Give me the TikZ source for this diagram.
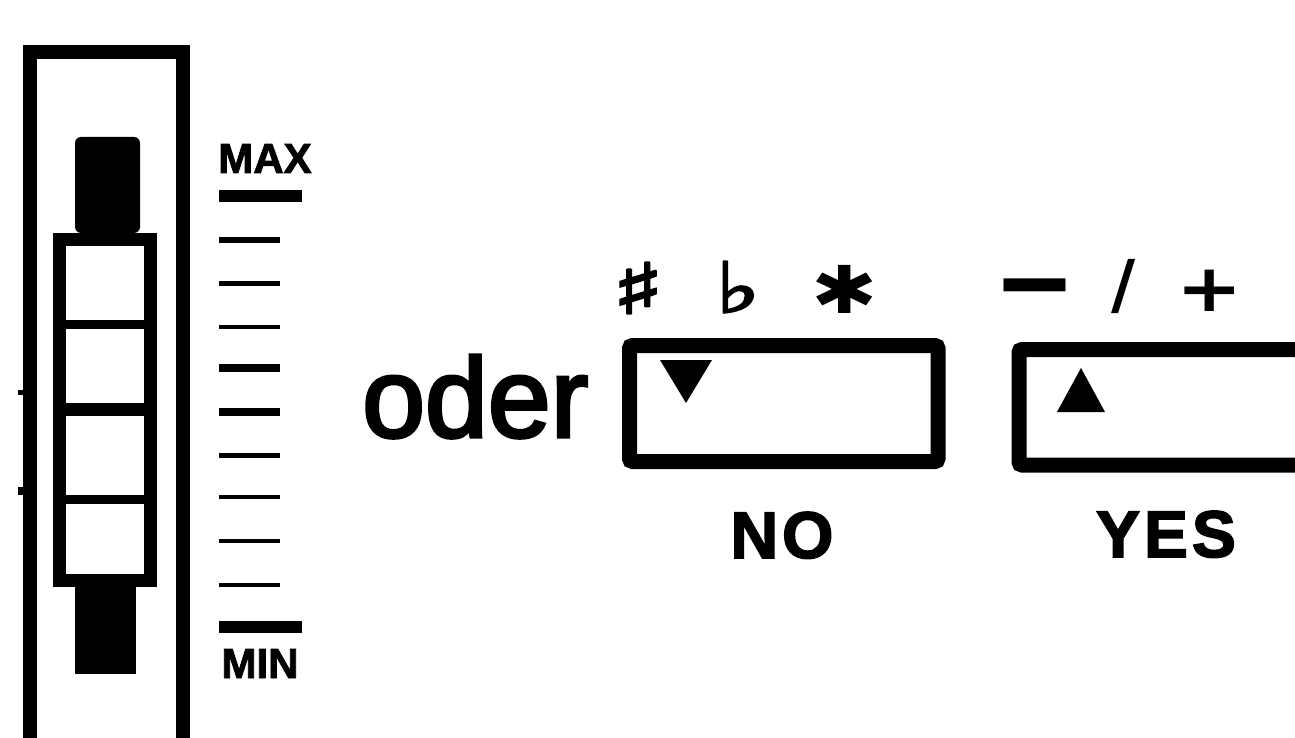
\documentclass[tikz,border=0pt]{standalone}
\usepackage{fontspec}
\setmainfont{Liberation Sans}
\newfontfamily\symfont{DejaVu Sans}[FakeBold=3]
\newfontfamily\symfontplain{DejaVu Sans Bold}
\newfontfamily\heavyfont{Liberation Sans Bold}[FakeBold=2.5, LetterSpace=6]
\newfontfamily\scalefont{Liberation Sans Bold}[FakeBold=2]
\newfontfamily\oderfont{Liberation Sans}[FakeBold=3]
\begin{document}
\begin{tikzpicture}[x=1pt,y=-1pt,
  lbl/.style={inner sep=0pt, font=\heavyfont\fontsize{66}{66}\selectfont},
  scl/.style={inner sep=0pt, font=\scalefont\fontsize{42}{42}\selectfont},
  sym/.style={inner sep=0pt, font=\symfont\fontsize{70}{70}\selectfont},
  symb/.style={inner sep=0pt, font=\symfontplain\fontsize{66}{66}\selectfont},
  box/.style={draw, line width=15pt, rounded corners=3pt}
]
\useasboundingbox (0,0) rectangle (1295,738);
\begin{scope}
\clip (0,0) rectangle (1295,738);
% outer frame
\draw[line width=14pt, line join=miter] (29.5,760) -- (29.5,52) -- (182.5,52) -- (182.5,760);
\fill (18,390) rectangle (23,395);
\fill (18,487) rectangle (23,495);
% slider caps
\fill[rounded corners=6pt] (75,233) -- (75,137) -- (140,137) -- (140,233) -- cycle;
\fill (75,587) rectangle (136,674);
% slider squares
\draw[line width=13pt] (59.5,239.5) rectangle (150.5,580.5);
\draw[line width=9pt] (53,324) -- (157,324);
\draw[line width=13pt] (53,409.5) -- (157,409.5);
\draw[line width=9pt] (53,499.5) -- (157,499.5);
% scale ticks
\fill (219,190) rectangle (302,202);
\foreach \yy/\tk in {240/6,283/5,327/4,368/8,412/8,455/5,497/4,541/4,585/4}
  \draw[line width=\tk pt] (219,\yy) -- (280,\yy);
\fill (219,621) rectangle (302,633);
\node[scl, anchor=base] (max) at (265,173) {MAX};
\node[scl, anchor=base] (min) at (260,678) {MIN};
% oder
\node[inner sep=0pt, anchor=base west, font=\oderfont\fontsize{113}{113}\selectfont] (oder) at (362,437) {oder};
% left box
\draw[box] (629.5,345.5) -- (938,345.5) -- (938,461.5) -- (629.5,461.5) -- cycle;
\fill (660,360) -- (712,360) -- (686,403) -- cycle;
% right box
\draw[box] (1330,349.5) -- (1019,349.5) -- (1019,465) -- (1330,465);
\fill (1057,412) -- (1105,412) -- (1081,368) -- cycle;
% symbols
\node[sym] (sharp) at (638,288) {\scalebox{1.55}[1]{♯}};
\node[sym] (flat) at (738,287) {\scalebox{1.35}[1]{♭}};
\node[symb] (star) at (845,289) {\scalebox{1.2}[1]{✱}};
\node[symb] (minus) at (1035,300) {\scalebox{1.5}[1.7]{−}};
\node[symb] (slash) at (1124,287) {/};
\node[symb] (plus) at (1210,291) {\scalebox{1.2}[1]{+}};
% labels
\node[lbl, anchor=base] (no) at (782,558) {NO};
\node[lbl, anchor=base] (yes) at (1166,557) {YES};
\end{scope}
\end{tikzpicture}
\end{document}
